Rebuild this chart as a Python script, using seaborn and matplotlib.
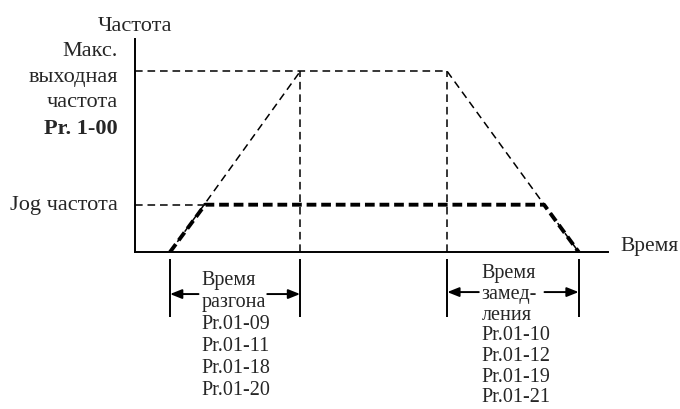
import numpy as np
import pandas as pd
import matplotlib
matplotlib.use("Agg")
import matplotlib.pyplot as plt
import seaborn as sns

# === данные (время в условных единицах, частота относительно макс.) ===
t_start = 0.80      # начало разгона
t_jog_up = 1.60     # Jog частота достигнута
t_acc = 3.77        # макс. частота достигнута
t_dec = 7.13        # начало замедления
t_jog_down = 9.34   # Jog: начало замедления
t_stop = 10.13      # остановка

f_max = 1.0
f_jog = 0.262

# тонкие пунктирные линии: (сегмент, t, f)
thin_seg = [0, 0, 1, 1, 2, 2, 3, 3, 4, 4, 5, 5]
thin_t = [0, t_dec, t_start, t_acc, t_dec, t_stop, t_acc, t_acc, t_dec, t_dec, 0, t_jog_up]
thin_f = [f_max, f_max, 0, f_max, f_max, 0, 0, f_max, 0, f_max, f_jog, f_jog]

# толстая линия — профиль Jog
jog_t = [t_start, t_jog_up, t_jog_down, t_stop]
jog_f = [0, f_jog, f_jog, 0]

acc_text = "Время\nразгона\nPr.01-09\nPr.01-11\nPr.01-18\nPr.01-20"
dec_text = "Время\nзамед-\nления\nPr.01-10\nPr.01-12\nPr.01-19\nPr.01-21"
max_label = ["Макс.", "выходная", "частота"]
max_param = "Pr. 1-00"

sns.set_style("white")
plt.rcParams['font.family'] = ['Liberation Serif', 'DejaVu Serif']
plt.rcParams['lines.scale_dashes'] = False

fig = plt.figure(figsize=(6.8, 4.1), dpi=100)
ax = fig.add_axes([135 / 680, 157 / 410, 473 / 680, 213 / 410])

thin = pd.DataFrame({'seg': thin_seg, 't': thin_t, 'f': thin_f})
sns.lineplot(data=thin, x='t', y='f', units='seg', estimator=None, sort=False,
             color='black', lw=1.1, linestyle=(0, (5.5, 3.5)), ax=ax)

jog = pd.DataFrame({'t': jog_t, 'f': jog_f})
sns.lineplot(data=jog, x='t', y='f', estimator=None, sort=False,
             color='black', lw=2.8, linestyle=(0, (7, 3.5)), ax=ax)

ax.set_xlim(0, 10.8)
ax.set_ylim(0, 1.18)
ax.set_xticks([])
ax.set_yticks([])
ax.set_xlabel("")
ax.set_ylabel("")
for side in ['top', 'right']:
    ax.spines[side].set_visible(False)
for side in ['left', 'bottom']:
    ax.spines[side].set_color('black')
    ax.spines[side].set_linewidth(1.4)

# подписи осей
ax.text(0, 1.255, "Частота", ha='center', va='center', fontsize=16, clip_on=False)
ax.text(11.08, 0.035, "Время", ha='left', va='center', fontsize=15.5, clip_on=False)

# подписи уровней
for i, s in enumerate(max_label):
    ax.text(-0.39, 1.115 - i * 0.142, s, ha='right', va='center', fontsize=16)
ax.text(-0.39, 1.115 - 3 * 0.142, max_param, ha='right', va='center',
        fontsize=16, fontweight='bold')
ax.text(-0.39, f_jog, "Jog частота", ha='right', va='center', fontsize=16)

# интервалы разгона / замедления
tick_top, tick_bot = -0.039, -0.36
for a, b, y_arr, top, txt, gap, ls in [
        (t_start, t_acc, -0.233, -0.1, acc_text, (0.65, 0.75), 1.22),
        (t_dec, t_stop, -0.222, -0.062, dec_text, (0.72, 0.78), 1.12)]:
    for t in (a, b):
        ax.plot([t, t], [tick_top, tick_bot], color='black', lw=1.4,
                solid_capstyle='butt', clip_on=False)
    arrow = dict(arrowstyle='-|>,head_length=0.7,head_width=0.28',
                 color='black', lw=1.4, shrinkA=0, shrinkB=0)
    ax.annotate("", xy=(a, y_arr), xytext=(a + gap[0], y_arr),
                arrowprops=arrow, annotation_clip=False)
    ax.annotate("", xy=(b, y_arr), xytext=(b - gap[1], y_arr),
                arrowprops=arrow, annotation_clip=False)
    ax.text(a + gap[0] + 0.07, top, txt,
            ha='left', va='top', fontsize=14.5, linespacing=ls, clip_on=False)

fig.savefig("out.png", dpi=100)
